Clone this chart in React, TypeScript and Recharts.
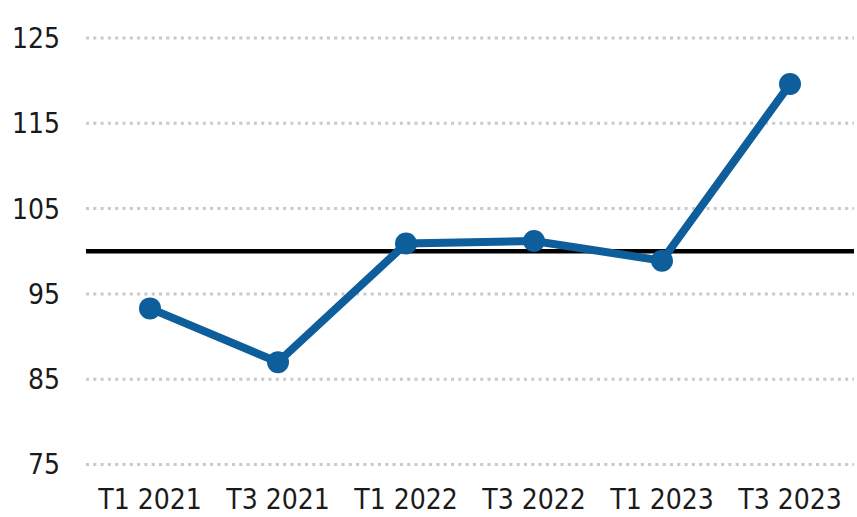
import { LineChart, Line, XAxis, YAxis, CartesianGrid, ReferenceLine } from "recharts";

const periods = ["T1 2021", "T3 2021", "T1 2022", "T3 2022", "T1 2023", "T3 2023"];
const values = [93.3, 87.0, 100.9, 101.2, 98.9, 119.6];
const yTicks = [75, 85, 95, 105, 115, 125];
const baseline = 100;

const data = periods.map((period, i) => ({ period, value: values[i] }));

const font = "'DejaVu Sans Condensed', 'Liberation Sans Narrow', 'DejaVu Sans', sans-serif";

export default function App() {
  return (
    <div style={{ position: "absolute", left: 0, top: 0, width: 857, height: 517, background: "#fff" }}>
      <LineChart width={857} height={517} data={data} margin={{ top: 38, right: 3, left: 0, bottom: 0 }}>
        <CartesianGrid vertical={false} stroke="#c9c9c9" strokeWidth={3} strokeDasharray="3 4.3" />
        <XAxis
          dataKey="period"
          axisLine={false}
          tickLine={false}
          tickSize={0}
          tickMargin={25}
          height={52.5}
          interval={0}
          padding={{ left: 64, right: 64 }}
          tick={{ fill: "#1a1a1a", fontSize: 28, fontFamily: font }}
        />
        <YAxis
          domain={[75, 125]}
          ticks={yTicks}
          axisLine={false}
          tickLine={false}
          tickSize={0}
          tickMargin={26}
          width={86}
          tick={{ fill: "#1a1a1a", fontSize: 28, fontFamily: font }}
        />
        <ReferenceLine y={baseline} stroke="#000" strokeWidth={4.5} />
        <Line
          type="linear"
          dataKey="value"
          stroke="#0e5e9b"
          strokeWidth={8}
          dot={{ r: 11, fill: "#0e5e9b", stroke: "none" }}
          isAnimationActive={false}
        />
      </LineChart>
    </div>
  );
}
